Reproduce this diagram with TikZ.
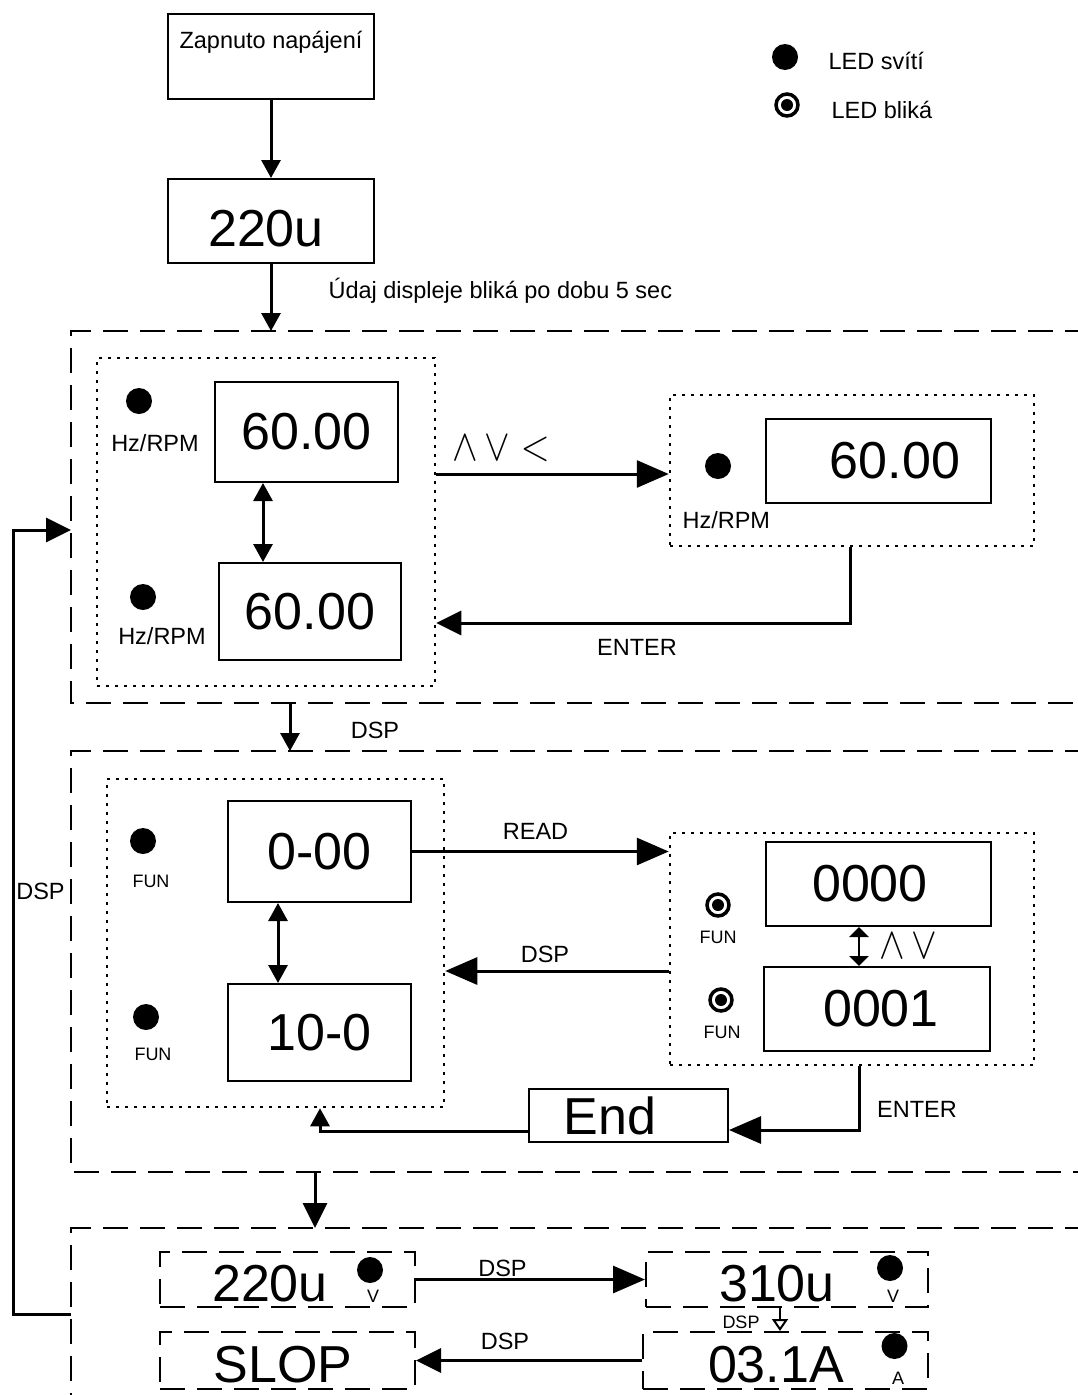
\documentclass[tikz,border=0pt]{standalone}
\usepackage{fontspec}
\setmainfont{Liberation Sans}
\usetikzlibrary{positioning, arrows.meta}

\newcommand{\segfont}{\fontsize{52}{52}\selectfont}
\newcommand{\keyfont}{\fontsize{23.5}{26}\selectfont}
\newcommand{\tagfont}{\fontsize{18}{20}\selectfont}
\newcommand{\opfont}{\fontsize{20.74}{24}\selectfont}

\begin{document}
\begin{tikzpicture}[
    x=1pt, y=-1pt,
    font=\keyfont,
    panel/.style={dash pattern=on 25pt off 12pt, line width=2pt},
    selbox/.style={draw, dash pattern=on 3pt off 6pt, line width=2.5pt, inner sep=0pt},
    disp/.style={draw, line width=2pt, inner sep=0pt, font=\segfont},
    lcd/.style={disp, dash pattern=on 25pt off 12pt, text height=44pt, text depth=0pt},
    led/.style={circle, fill, minimum size=26pt, inner sep=0pt},
    blink/.style={circle, draw, line width=3.5pt, minimum size=22pt, inner sep=0pt,
        path picture={\fill (path picture bounding box.center) circle (6pt);}},
    tagtxt/.style={font=\tagfont, anchor=base},
    arrS/.style={line width=3pt, -{Triangle[length=18pt, width=19pt]}},
    arrM/.style={line width=3pt, -{Triangle[length=25pt, width=24pt]}},
    arrL/.style={line width=3pt, -{Triangle[length=32pt, width=27pt]}},
    dblS/.style={line width=3pt, {Triangle[length=18pt, width=19pt]}-{Triangle[length=18pt, width=19pt]}},
    dblT/.style={line width=2.5pt, {Triangle[length=10pt, width=19pt]}-{Triangle[length=10pt, width=19pt]}}
]

\useasboundingbox (0,0) rectangle (1078,1395);

\node[draw, line width=2pt, minimum width=206pt, minimum height=85pt, inner sep=0pt,
      text height=18pt, text depth=34pt] (power) at (271,56.5) {Zapnuto napájení};
\node[disp, minimum width=206pt, minimum height=84pt, text height=50pt, text depth=0pt]
      (lcdTop) at (271,221) {220u\hspace*{10pt}};
\node[anchor=base west] (note) at (325,298) {Údaj displeje bliká po dobu 5 sec};

% legend
\node[led] (ledOn) at (785,57) {};
\node[anchor=base west] (ledOnTxt) at (825,69) {LED svítí};
\node[blink] (ledBl) at (787,105) {};
\node[anchor=base west] (ledBlTxt) at (828,118) {LED bliká};

% panel frames are open on the right and run off the page
\coordinate (inA) at (271,331);
\coordinate (outA) at (290,703);
\coordinate (inB) at (290,751);
\coordinate (outB) at (315,1172);
\coordinate (inC) at (315,1228);
\coordinate (backA) at (71,530);
\coordinate (backC) at (71,1314);

\draw[panel] (1090,331) -| (71,703) -- (1090,703);
\draw[panel] (1090,751) -| (71,1172) -- (1090,1172);
\draw[panel] (1090,1228) -| (71,1400);

% frequency setting
\node[selbox, minimum width=338pt, minimum height=328pt] (selA) at (266,522) {};
\node[disp, minimum width=183pt, minimum height=100pt] (dispA1) at (306.5,432) {60.00};
\node[disp, minimum width=182pt, minimum height=97pt] (dispA2) at (310,611.5) {60.00};
\node[led] (ledA1) at (139,401) {};
\node[anchor=base] (hzA1) at (155,451) {Hz/RPM};
\node[led] (ledA2) at (143,597) {};
\node[anchor=base] (hzA2) at (162,644) {Hz/RPM};

\node[selbox, minimum width=364pt, minimum height=151pt] (selB) at (852,470.5) {};
\node[disp, minimum width=225pt, minimum height=84pt] (dispB) at (878.5,461) {\hspace*{33pt}60.00};
\node[led] (ledB) at (718,466) {};
\node[anchor=base west] (hzB) at (679,528) {Hz/RPM};

\node[anchor=west, font=\opfont] (keysA) at (449,449) {\scalebox{1.85}[2.15]{${\wedge}\,{\vee}\;{<}$}};
\node[anchor=base] (enterA) at (637,655) {ENTER};

\draw[dblS] (263,0 |- dispA1.south) -- (263,0 |- dispA2.north);
\draw[arrL] (selA.east |- 0,474) -- (selB.west |- 0,474);
\draw[arrM] (850,0 |- selB.south) |- (selA.east |- 0,623);

% function parameters
\node[anchor=base] (dspAB) at (375,738) {DSP};
\node[anchor=base] (dspBack) at (40.5,899) {DSP};

\node[selbox, minimum width=337pt, minimum height=328pt] (selC) at (275.5,943) {};
\node[disp, minimum width=183pt, minimum height=101pt] (dispC1) at (319.5,851.5) {0-00};
\node[disp, minimum width=183pt, minimum height=97pt] (dispC2) at (319.5,1032.5) {10-0};
\node[led] (ledC1) at (143,841) {};
\node[tagtxt] (funC1) at (151,887) {FUN};
\node[led] (ledC2) at (146,1017) {};
\node[tagtxt] (funC2) at (153,1060) {FUN};

\node[selbox, minimum width=364pt, minimum height=232pt] (selD) at (852,949) {};
\node[disp, minimum width=225pt, minimum height=84pt] (dispD1) at (878.5,884) {0000\hspace*{17pt}};
\node[disp, minimum width=226pt, minimum height=84pt] (dispD2) at (877,1009) {\hspace*{8pt}0001};
\node[blink] (blD1) at (718,905) {};
\node[tagtxt] (funD1) at (718,943) {FUN};
\node[blink] (blD2) at (721,1000) {};
\node[tagtxt] (funD2) at (722,1038) {FUN};
\node[anchor=west, font=\opfont] (keysD) at (876,946) {\scalebox{1.85}[2.15]{${\wedge}\,{\vee}$}};

\node[anchor=base] (readC) at (535.5,839) {READ};
\node[anchor=base] (dspDC) at (545,962) {DSP};
\node[disp, minimum width=199pt, minimum height=53pt] (endbox) at (628.5,1115.5) {End\hspace*{37pt}};
\node[anchor=base] (enterD) at (917,1117) {ENTER};

\draw[dblS] (278,0 |- dispC1.south) -- (278,0 |- dispC2.north);
\draw[arrL] (dispC1.east) -- (selD.west |- dispC1.east);
\draw[arrL] (selD.west |- 0,971) -- (selC.east |- 0,971);
\draw[dblT] (859,0 |- dispD1.south) -- (859,0 |- dispD2.north);
\draw[arrL] (859,0 |- selD.south) |- (endbox.east |- 0,1130);
\draw[arrS] (endbox.west |- 0,1131) -| (320,0 |- selC.south);

% monitor displays
\node[lcd, minimum width=255pt, minimum height=55pt] (lcdE1) at (287.5,1279.5) {220u\hspace*{35pt}};
\node[led] (ledE1) at (370,1270) {};
\node[tagtxt] (unitE1) at (373,1302) {V};
\node[lcd, minimum width=282pt, minimum height=55pt] (lcdE2) at (787,1279.5) {310u\hspace*{20pt}};
\node[led] (ledE2) at (890,1268) {};
\node[tagtxt] (unitE2) at (893,1302) {V};
\node[lcd, minimum width=255pt, minimum height=57pt] (lcdE3) at (287.5,1360.5) {SLOP\hspace*{9pt}};
\node[lcd, minimum width=285pt, minimum height=57pt] (lcdE4) at (785.5,1360.5) {03.1A\hspace*{19pt}};
\node[led] (ledE4) at (894.5,1346) {};
\node[tagtxt] (unitE4) at (898,1384) {A};

\node[anchor=base] (dspE1) at (502.5,1276) {DSP};
\node[anchor=base] (dspE3) at (505,1349) {DSP};
\node[tagtxt] (dspE2) at (741,1328) {DSP};

\draw[arrL] (lcdE1) -- (lcdE2);
\draw[arrM] (lcdE4) -- (lcdE3);
\draw[line width=2pt, -{Triangle[open, length=12pt, width=16pt]}] (780,0 |- lcdE2.south) -- (780,0 |- lcdE4.north);

% the way back to the first panel
\draw[arrS] (outA) -- (inB);
\draw[arrM] (outB) -- (inC);
\draw[arrS] (power) -- (lcdTop);
\draw[arrS] (lcdTop) -- (inA);
\draw[arrM] (backC) -- (13,0 |- backC) |- (backA);

\end{tikzpicture}
\end{document}
